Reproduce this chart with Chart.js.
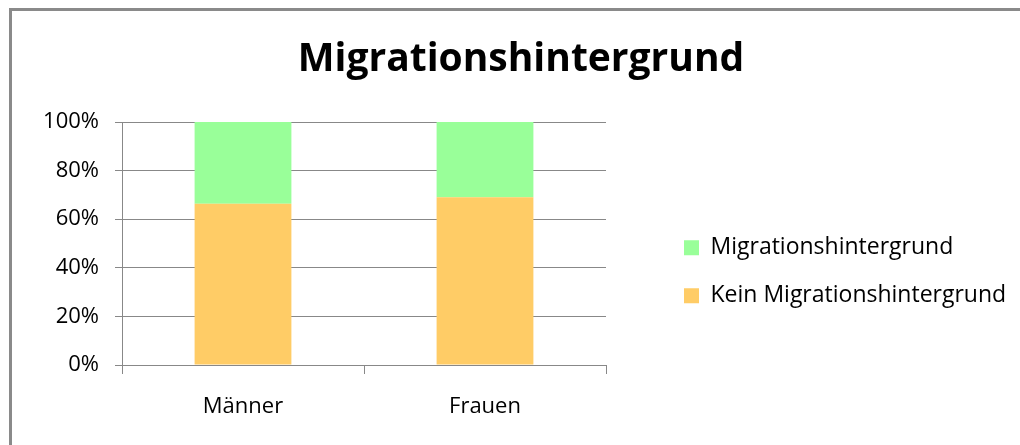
<!DOCTYPE html>
<html>
<head>
<meta charset="utf-8">
<script src="https://cdn.jsdelivr.net/npm/chart.js@4"></script>
<style>
  html, body { margin: 0; padding: 0; background: #fff; overflow: hidden; }
  #chart { display: block; }
</style>
</head>
<body>
<canvas id="chart" width="1020" height="445"></canvas>
<script>
// data
const categories = ["Männer", "Frauen"];
const keinMigration = [66.4, 69.0];
const migration = [33.6, 31.0];
const yTicks = [0, 20, 40, 60, 80, 100];

const FONT = '"Open Sans", "Noto Sans", sans-serif';
const labelSize = 22;
const legendSize = 23;

// legend width so the plot keeps its place
const m = document.createElement("canvas").getContext("2d");
m.font = legendSize + "px " + FONT;
const textW = m.measureText("Kein Migrationshintergrund").width;
const legendPad = 25, boxW = 15;
const legendLeft = 684 - legendPad;
const legendRight = legendLeft + legendPad + boxW + legendSize / 2 + textW + 10;
const padRight = Math.max(0, 1020 - legendRight);
const padLeft = padRight + 22;

Chart.defaults.font.family = FONT;
Chart.defaults.color = "#000";

// gray chart frame, only the top and left edges fall inside the picture
const framePlugin = {
  id: "frame",
  beforeDraw(chart) {
    const c = chart.ctx;
    c.save();
    c.strokeStyle = "#8a8a8a";
    c.lineWidth = 3;
    c.beginPath();
    c.moveTo(10.5, chart.height + 5);
    c.lineTo(10.5, 9.5);
    c.lineTo(chart.width + 5, 9.5);
    c.stroke();
    c.restore();
  },
};

const ctx = document.getElementById("chart").getContext("2d");
const chart = new Chart(ctx, {
  type: "bar",
  data: {
    labels: categories,
    datasets: [
      {
        label: "Kein Migrationshintergrund",
        data: keinMigration,
        backgroundColor: "#ffcc66",
        borderWidth: 0,
      },
      {
        label: "Migrationshintergrund",
        data: migration,
        backgroundColor: "#99ff99",
        borderWidth: 0,
      },
    ],
  },
  plugins: [framePlugin],
  options: {
    responsive: false,
    devicePixelRatio: 1,
    animation: false,
    layout: { padding: { left: padLeft, right: padRight, top: 10, bottom: 0 } },
    datasets: { bar: { barPercentage: 0.4, categoryPercentage: 1 } },
    plugins: {
      title: {
        display: true,
        text: "Migrationshintergrund",
        font: { size: 39, weight: "bold" },
        padding: { top: 26, bottom: 39.2 },
      },
      legend: {
        position: "right",
        fullSize: false,
        maxWidth: 420,
        reverse: true,
        title: { display: true, text: "", padding: { top: 42, bottom: 0 } },
        labels: {
          boxWidth: boxW,
          boxHeight: boxW,
          padding: legendPad,
          font: { size: legendSize },
        },
      },
      tooltip: { enabled: false },
    },
    scales: {
      x: {
        stacked: true,
        grid: { display: true, drawOnChartArea: false, offset: true, color: "#888", tickLength: 9 },
        border: { color: "#888" },
        ticks: { font: { size: labelSize }, padding: 20 },
        afterFit: (s) => { s.height = 80; },
      },
      y: {
        stacked: true,
        min: 0,
        max: 100,
        afterBuildTicks: (s) => { s.ticks = yTicks.map((v) => ({ value: v })); },
        grid: { color: "#888", tickLength: 7 },
        border: { color: "#888" },
        ticks: { font: { size: labelSize }, padding: 16, callback: (v) => v + "%" },
        afterFit: (s) => { s.width = 122 - padLeft; },
      },
      gap: {
        position: "right",
        display: true,
        grid: { display: false },
        border: { display: false },
        ticks: { display: false },
        afterFit: (s) => { s.width = legendLeft - 606; },
      },
    },
  },
});
</script>
</body>
</html>
